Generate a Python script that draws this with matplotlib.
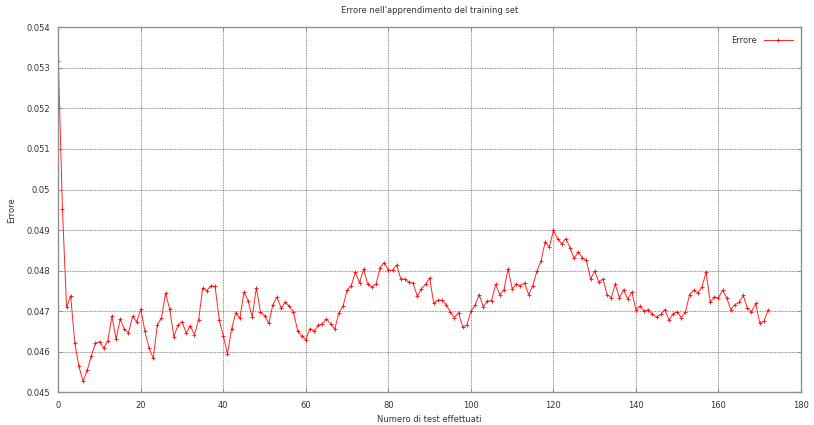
import matplotlib
matplotlib.use("Agg")
import matplotlib.pyplot as plt
import numpy as np

title = "Errore nell'apprendimento del training set"
xlabel = "Numero di test effettuati"
ylabel = "Errore"
series_label = "Errore"

errore = [
    0.05318, 0.04952, 0.04710, 0.04738, 0.04621, 0.04564, 0.04527, 0.04554, 0.04590, 0.04621,
    0.04625, 0.04609, 0.04627, 0.04688, 0.04631, 0.04681, 0.04656, 0.04647, 0.04687, 0.04674,
    0.04705, 0.04650, 0.04609, 0.04584, 0.04666, 0.04683, 0.04744, 0.04705, 0.04637, 0.04666,
    0.04674, 0.04646, 0.04664, 0.04642, 0.04679, 0.04757, 0.04751, 0.04763, 0.04761, 0.04679,
    0.04638, 0.04595, 0.04656, 0.04696, 0.04682, 0.04747, 0.04726, 0.04685, 0.04758, 0.04698,
    0.04689, 0.04670, 0.04716, 0.04735, 0.04708, 0.04722, 0.04712, 0.04698, 0.04652, 0.04638,
    0.04630, 0.04657, 0.04651, 0.04665, 0.04669, 0.04681, 0.04669, 0.04656, 0.04696, 0.04712,
    0.04752, 0.04763, 0.04796, 0.04770, 0.04804, 0.04766, 0.04760, 0.04766, 0.04807, 0.04820,
    0.04801, 0.04801, 0.04814, 0.04780, 0.04779, 0.04771, 0.04769, 0.04737, 0.04755, 0.04766,
    0.04782, 0.04719, 0.04727, 0.04727, 0.04716, 0.04698, 0.04684, 0.04696, 0.04661, 0.04665,
    0.04700, 0.04715, 0.04741, 0.04711, 0.04725, 0.04726, 0.04766, 0.04741, 0.04752, 0.04805,
    0.04755, 0.04766, 0.04763, 0.04770, 0.04741, 0.04763, 0.04799, 0.04824, 0.04871, 0.04858,
    0.04899, 0.04879, 0.04866, 0.04879, 0.04857, 0.04830, 0.04846, 0.04832, 0.04825, 0.04779,
    0.04799, 0.04772, 0.04779, 0.04741, 0.04733, 0.04766, 0.04733, 0.04753, 0.04730, 0.04747,
    0.04704, 0.04712, 0.04700, 0.04704, 0.04692, 0.04686, 0.04692, 0.04704, 0.04678, 0.04694,
    0.04698, 0.04684, 0.04698, 0.04741, 0.04752, 0.04745, 0.04760, 0.04796, 0.04722, 0.04735,
    0.04733, 0.04752, 0.04733, 0.04704, 0.04716, 0.04722, 0.04739, 0.04708, 0.04698, 0.04719,
    0.04671, 0.04675, 0.04702,
]
x_ticks = [0, 20, 40, 60, 80, 100, 120, 140, 160, 180]
y_ticks = [0.045, 0.046, 0.047, 0.048, 0.049, 0.05, 0.051, 0.052, 0.053, 0.054]
y_tick_labels = ["0.045", "0.046", "0.047", "0.048", "0.049", "0.05", "0.051", "0.052", "0.053", "0.054"]

x = np.arange(len(errore))

fig = plt.figure(figsize=(8.14, 4.25), dpi=100)
ax = fig.add_axes([58.3/814, 1-392.3/425, (801-58.3)/814, (392.3-27.3)/425])

ax.plot(x, errore, color="#ff0000", linewidth=0.7, marker="+", markersize=3.5,
        markeredgewidth=0.7, label=series_label, alpha=0.85)

ax.set_xlim(0, 180)
ax.set_ylim(0.045, 0.054)
ax.set_xticks(x_ticks)
ax.set_yticks(y_ticks)
ax.set_yticklabels(y_tick_labels)
ax.grid(True, color="#000000", linestyle=(0, (1, 1)), linewidth=0.6, alpha=0.6)

txt_color = "#333333"
for s in ax.spines.values():
    s.set_color("#909090")
    s.set_linewidth(1.0)
ax.tick_params(axis="both", which="both", direction="in", length=3, color="#909090",
               labelsize=6, labelcolor=txt_color, top=True, right=True, pad=6)

ax.set_title(title, fontsize=6, color=txt_color, pad=10)
ax.set_xlabel(xlabel, fontsize=6, color=txt_color, labelpad=4)
ax.set_ylabel(ylabel, fontsize=6, color=txt_color, labelpad=7)

leg = ax.legend(loc="upper right", frameon=False, fontsize=6, markerfirst=False,
                handlelength=3.5, borderaxespad=0.6, handletextpad=0.8)
for t in leg.get_texts():
    t.set_color(txt_color)

fig.savefig("out.png", dpi=100)
